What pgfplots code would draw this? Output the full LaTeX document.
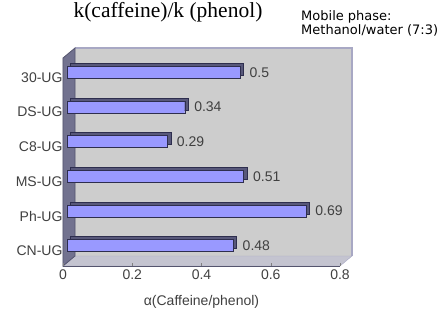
\documentclass[border=0pt]{standalone}
\usepackage{pgfplots}
\pgfplotsset{compat=1.18}
\usepackage{fontspec}
\setmainfont{Liberation Sans}
\newfontfamily\titlefont{Liberation Serif}
\newfontfamily\notefont{DejaVu Sans}
\definecolor{backwall}{HTML}{CDCDCD}
\definecolor{wallline}{HTML}{A8A8C4}
\definecolor{leftwall}{HTML}{72728F}
\definecolor{leftedge}{HTML}{55556E}
\definecolor{floorc}{HTML}{C4C4D0}
\definecolor{barfront}{HTML}{9999FF}
\definecolor{barside}{HTML}{58587A}
\definecolor{bardark}{HTML}{2E2E4E}
\definecolor{labgrey}{HTML}{404040}
\begin{document}
\begin{tikzpicture}[x=1pt,y=1pt]
\begin{axis}[
  at={(63pt,45pt)}, anchor=south west,
  scale only axis, width=277pt, height=208pt,
  xmin=0, xmax=0.8, ymin=-0.5, ymax=5.5,
  xtick={0,0.2,0.4,0.6,0.8},
  ytick={0,1,2,3,4,5},
  yticklabels={CN-UG,Ph-UG,MS-UG,C8-UG,DS-UG,30-UG},
  axis line style={draw=none},
  tick pos=left,
  tick align=inside,
  ytick style={draw=none},
  xtick style={draw=gray, thin},
  major tick length=3pt,
  ticklabel style={font=\fontsize{14}{14}\selectfont, text=labgrey},
  yticklabel style={xshift=3pt, yshift=-2pt},
  /pgf/number format/assume math mode=true,
  xlabel={α(Caffeine/phenol)},
  xlabel style={font=\fontsize{14}{14}\selectfont, text=labgrey, at={(axis description cs:0.5,0)}, anchor=center, yshift=-36pt},
  axis on top,
  clip=false,
]
% back wall
\fill[backwall] ([xshift=12pt,yshift=10pt]rel axis cs:0,0) rectangle ([xshift=12pt,yshift=10pt]rel axis cs:1,1);
\draw[wallline, line width=1.2pt] ([xshift=12pt,yshift=10pt]rel axis cs:0,1) -- ([xshift=12pt,yshift=10pt]rel axis cs:1,1) -- ([xshift=12pt,yshift=10pt]rel axis cs:1,0);
% floor
\fill[floorc, draw=wallline] (rel axis cs:0,0) -- (rel axis cs:1,0) -- ([xshift=12pt,yshift=10pt]rel axis cs:1,0) -- ([xshift=12pt,yshift=10pt]rel axis cs:0,0) -- cycle;
\draw[leftedge, line width=1pt] (rel axis cs:0,0) -- (rel axis cs:1,0);
% left wall
\fill[leftwall, draw=leftedge, line width=0.8pt] (rel axis cs:0,0) -- ([xshift=12pt,yshift=10pt]rel axis cs:0,0) -- ([xshift=12pt,yshift=10pt]rel axis cs:0,1) -- (rel axis cs:0,1) -- cycle;
% bars: depth
\addplot[xbar, bar shift=0pt, bar width=12pt, fill=barside, draw=bardark, xshift=7.5pt, yshift=6pt, forget plot]
  coordinates {(0.48,0) (0.69,1) (0.51,2) (0.29,3) (0.34,4) (0.5,5)};
% bars: front
\addplot[xbar, bar shift=0pt, bar width=12pt, fill=barfront, draw=bardark, xshift=4pt, yshift=3pt,
  nodes near coords, point meta=x,
  every node near coord/.append style={anchor=west, xshift=6pt, font=\fontsize{14}{14}\selectfont, text=labgrey}]
  coordinates {(0.48,0) (0.69,1) (0.51,2) (0.29,3) (0.34,4) (0.5,5)};
\end{axis}
\node[anchor=base, font=\titlefont\fontsize{21.5}{21.5}\selectfont, inner sep=0] at (168,293.5) {k(caffeine)/k (phenol)};
\node[anchor=base west, font=\notefont\fontsize{13}{13}\selectfont, inner sep=0] at (301,290.3) {Mobile phase:};
\node[anchor=base west, font=\notefont\fontsize{13}{13}\selectfont, inner sep=0] at (301,276.3) {Methanol/water (7:3)};
\pgfresetboundingbox
\path[use as bounding box] (0,0) rectangle (438,311);
\end{tikzpicture}
\end{document}
